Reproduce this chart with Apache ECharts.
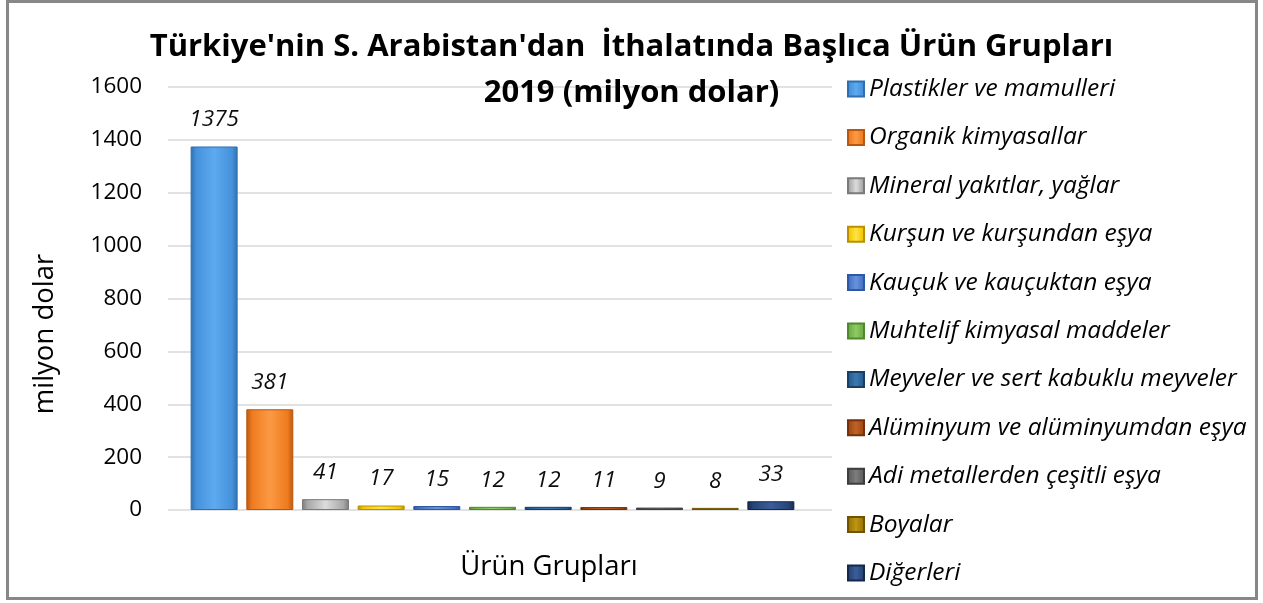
<!DOCTYPE html>
<html>
<head>
<meta charset="utf-8">
<script src="https://cdn.jsdelivr.net/npm/echarts@6/dist/echarts.min.js"></script>
<style>
  html, body { margin: 0; padding: 0; background: #fff; }
  #chart { width: 1263px; height: 603px; }
</style>
</head>
<body>
<div id="chart"></div>
<script>
// veri
var productGroups = [
  'Plastikler ve mamulleri',
  'Organik kimyasallar',
  'Mineral yakıtlar, yağlar',
  'Kurşun ve kurşundan eşya',
  'Kauçuk ve kauçuktan eşya',
  'Muhtelif kimyasal maddeler',
  'Meyveler ve sert kabuklu meyveler',
  'Alüminyum ve alüminyumdan eşya',
  'Adi metallerden çeşitli eşya',
  'Boyalar',
  'Diğerleri'
];
var importValues = [1375, 381, 41, 17, 15, 12, 12, 11, 9, 8, 33];
var yMin = 0, yMax = 1600, yStep = 200;

// renkler: [koyu kenar, ana renk, açık orta]
var palette = [
  ['#2f6fae', '#4592dc', '#5eaaf0'],
  ['#b9570f', '#ee7b1f', '#fb9a44'],
  ['#7a7a7a', '#a8a8a8', '#dcdcdc'],
  ['#b99000', '#f2c800', '#ffe24a'],
  ['#2c58a4', '#4472c4', '#6a93dc'],
  ['#4e8a2c', '#70ad47', '#8fcb63'],
  ['#173f66', '#255e91', '#3b78b0'],
  ['#73300a', '#a2490f', '#c0622a'],
  ['#3d3d3d', '#5f5f5f', '#7d7d7d'],
  ['#6f5300', '#9c7600', '#bd9518'],
  ['#15284a', '#264478', '#3b5d9a']
];

function bevel(c) {
  return new echarts.graphic.LinearGradient(0, 0, 1, 0, [
    { offset: 0, color: c[0] },
    { offset: 0.12, color: c[1] },
    { offset: 0.5, color: c[2] },
    { offset: 0.88, color: c[1] },
    { offset: 1, color: c[0] }
  ]);
}

var FONT = 'Open Sans, Noto Sans, sans-serif';

var series = productGroups.map(function (name, i) {
  var data = importValues.map(function (v, j) { return j === i ? v : '-'; });
  return {
    name: name,
    type: 'bar',
    stack: 'tum',
    xAxisIndex: 1,
    yAxisIndex: 1,
    barWidth: 47,
    data: data,
    itemStyle: {
      color: bevel(palette[i]),
      borderColor: palette[i][0],
      borderWidth: 1
    },
    label: {
      show: true,
      position: 'top',
      distance: 15,
      fontFamily: FONT,
      fontStyle: 'italic',
      fontSize: 22.5,
      color: '#0d0d0d'
    }
  };
});

var chart = echarts.init(document.getElementById('chart'), null, { renderer: 'canvas' });

var option = {
  animation: false,
  textStyle: { fontFamily: FONT },
  title: {
    text: "Türkiye'nin S. Arabistan'dan  İthalatında Başlıca Ürün Grupları\n2019 (milyon dolar)",
    left: 'center',
    top: 24,
    padding: 0,
    textStyle: {
      fontFamily: FONT,
      fontSize: 31,
      fontWeight: 'bold',
      lineHeight: 46,
      color: '#000'
    }
  },
  legend: {
    orient: 'vertical',
    left: 847,
    top: 76.5,
    padding: 0,
    itemWidth: 16,
    itemHeight: 15,
    itemGap: 23.4,
    icon: 'rect',
    textStyle: {
      fontFamily: FONT,
      fontStyle: 'italic',
      fontSize: 24.5,
      lineHeight: 25,
      color: '#000'
    },
    data: productGroups
  },
  grid: [
    { left: 168, right: 431, top: 87, bottom: 93 },
    { left: 186.3, right: 464.3, top: 87, bottom: 93 }
  ],
  xAxis: [
    {
      type: 'category',
      gridIndex: 0,
      data: [''],
      axisLine: { show: false },
      axisTick: { show: false },
      axisLabel: { show: false },
      name: 'Ürün Grupları',
      nameLocation: 'middle',
      nameGap: 43,
      nameTextStyle: { fontFamily: FONT, fontSize: 27.5, color: '#000', padding: [0, 0, 0, 98] }
    },
    {
      type: 'category',
      gridIndex: 1,
      data: productGroups,
      show: false
    }
  ],
  yAxis: [
    {
      type: 'value',
      gridIndex: 0,
      min: yMin,
      max: yMax,
      interval: yStep,
      axisLine: { show: false },
      axisTick: { show: false },
      axisLabel: {
        fontFamily: FONT, fontSize: 22.5, color: '#000', margin: 26,
        formatter: function (v) { return String(v); }
      },
      splitLine: { lineStyle: { color: '#d9d9d9', width: 1.5 } }
    },
    {
      type: 'value',
      gridIndex: 1,
      min: yMin,
      max: yMax,
      show: false
    }
  ],
  graphic: [
    {
      type: 'rect',
      shape: { x: 7.5, y: 1.5, width: 1249, height: 597 },
      style: { fill: 'none', stroke: '#878787', lineWidth: 3 },
      silent: true
    },
    {
      // y ekseni başlığı
      type: 'text',
      x: 45,
      y: 334,
      rotation: Math.PI / 2,
      style: {
        text: 'milyon dolar',
        fontFamily: FONT,
        fontSize: 27.5,
        fill: '#000',
        align: 'center',
        verticalAlign: 'middle'
      },
      silent: true
    }
  ],
  series: series
};

chart.setOption(option);
</script>
</body>
</html>
